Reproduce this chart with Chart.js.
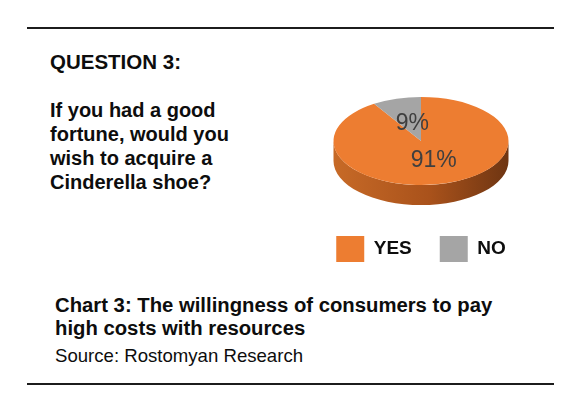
<!DOCTYPE html>
<html>
<head>
<meta charset="utf-8">
<script src="https://cdn.jsdelivr.net/npm/chart.js@4"></script>
<style>
  html, body { margin: 0; padding: 0; background: #fff; }
  body { width: 588px; height: 404px; position: relative; overflow: hidden;
         font-family: "Liberation Sans", Arial, sans-serif; color: #0d0d0d; }
  .rule { position: absolute; left: 27px; width: 527px; height: 2px; background: #1c1c1c; }
  .t { position: absolute; white-space: nowrap; }
  #q { left: 50px; top: 50px; font-weight: bold; font-size: 20.5px; line-height: 24px; }
  #qt { left: 50px; top: 98px; font-weight: bold; font-size: 20px; line-height: 24px; }
  #cap { left: 55px; top: 294px; font-weight: bold; font-size: 20.3px; line-height: 23px; }
  #src { left: 55px; top: 346px; font-size: 18.6px; line-height: 20px; }
  #wrap { position: absolute; left: 296px; top: 60px; width: 250px; height: 212px; }
</style>
</head>
<body>
<div class="rule" style="top:27px"></div>
<div class="t" id="q">QUESTION 3:</div>
<div class="t" id="qt">If you had a good<br>fortune, would you<br>wish to acquire a<br>Cinderella shoe?</div>
<div id="wrap"><canvas id="c" width="250" height="212"></canvas></div>
<div class="t" id="cap">Chart 3: The willingness of consumers to pay<br>high costs with resources</div>
<div class="t" id="src">Source: Rostomyan Research</div>
<div class="rule" style="top:383px"></div>

<script>
// ---- data ----
const categories = ["YES", "NO"];
const shares = [91, 9];
const sliceColors = ["#ED7D31", "#A5A5A5"];
const sideColors = [["#C76A27", "#A9521B", "#6E3512"], ["#8C8C8C", "#777777", "#555555"]];

// ---- 3D tilt plugin ----
const pie3d = {
  id: 'pie3d',
  beforeDatasetsDraw(chart, args, opts) {
    const meta = chart.getDatasetMeta(0);
    const ctx = chart.ctx;
    const first = meta.data[0].getProps(['x', 'y', 'outerRadius'], true);
    const cx = first.x, cy = first.y, R = first.outerRadius;
    const k = opts.tilt, D = opts.depth / k;
    ctx.save();
    ctx.translate(cx, cy); ctx.scale(1, k); ctx.translate(-cx, -cy);
    meta.data.forEach((arc, i) => {
      const p = arc.getProps(['startAngle', 'endAngle'], true);
      [-2 * Math.PI, 0, 2 * Math.PI].forEach(off => {
        const a0 = Math.max(p.startAngle + off, 0);
        const a1 = Math.min(p.endAngle + off, Math.PI);
        if (a1 <= a0) return;
        const g = ctx.createLinearGradient(cx - R, 0, cx + R, 0);
        const sc = sideColors[i];
        g.addColorStop(0, sc[0]); g.addColorStop(0.55, sc[1]); g.addColorStop(1, sc[2]);
        ctx.beginPath();
        ctx.arc(cx, cy, R, a0, a1, false);
        ctx.arc(cx, cy + D, R, a1, a0, true);
        ctx.closePath();
        ctx.fillStyle = g;
        ctx.fill();
      });
    });
  },
  afterDatasetsDraw(chart, args, opts) {
    const ctx = chart.ctx;
    ctx.restore();
    const meta = chart.getDatasetMeta(0);
    const k = opts.tilt;
    ctx.save();
    ctx.font = '23px "Liberation Sans", Arial, sans-serif';
    ctx.fillStyle = '#3f3f3f';
    ctx.textAlign = 'center';
    ctx.textBaseline = 'middle';
    meta.data.forEach((arc, i) => {
      const p = arc.getProps(['x', 'y', 'startAngle', 'endAngle', 'outerRadius'], true);
      const mid = (p.startAngle + p.endAngle) / 2;
      const r = p.outerRadius * 0.44;
      ctx.fillText(shares[i] + '%', p.x + Math.cos(mid) * r + 2, p.y + Math.sin(mid) * r * k + 1);
    });
    ctx.restore();
  }
};

new Chart(document.getElementById('c'), {
  type: 'pie',
  data: {
    labels: categories,
    datasets: [{
      data: shares,
      backgroundColor: sliceColors,
      borderWidth: 0,
      radius: 87.5,
      clip: false
    }]
  },
  options: {
    responsive: false,
    animation: false,
    events: [],
    layout: { padding: { top: 14, bottom: 0, left: 0, right: 0 } },
    plugins: {
      pie3d: { tilt: 0.503, depth: 20 },
      tooltip: { enabled: false },
      legend: {
        position: 'bottom',
        labels: {
          boxWidth: 28,
          boxHeight: 26,
          padding: 28,
          color: '#0d0d0d',
          font: { family: '"Liberation Sans", Arial, sans-serif', size: 19, weight: 'bold' }
        }
      }
    }
  },
  plugins: [pie3d]
});
</script>
</body>
</html>
